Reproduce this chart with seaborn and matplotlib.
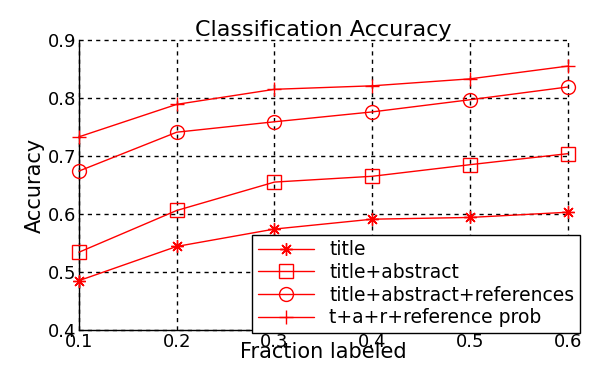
import matplotlib
matplotlib.use("Agg")
import matplotlib.pyplot as plt
import seaborn as sns

# data
fraction = [0.1, 0.2, 0.3, 0.4, 0.5, 0.6]
acc_title = [0.485, 0.544, 0.574, 0.591, 0.594, 0.603]
acc_title_abstract = [0.534, 0.606, 0.655, 0.665, 0.685, 0.704]
acc_title_abstract_refs = [0.674, 0.741, 0.759, 0.776, 0.797, 0.819]
acc_ref_prob = [0.733, 0.789, 0.815, 0.821, 0.833, 0.855]

labels = ["title", "title+abstract", "title+abstract+references", "t+a+r+reference prob"]
series = [acc_title, acc_title_abstract, acc_title_abstract_refs, acc_ref_prob]
markers = [(8, 2, 0), "s", "o", "+"]
sizes = [9, 9.5, 10, 10]

sns.set_style("white")
plt.rcParams["font.family"] = ["DejaVu Sans"]
plt.rcParams["text.color"] = "black"
plt.rcParams["axes.labelcolor"] = "black"
plt.rcParams["xtick.color"] = "black"
plt.rcParams["ytick.color"] = "black"

fig = plt.figure(figsize=(5.89, 3.81), dpi=100)
ax = fig.add_axes([0.134, 0.134, 0.830, 0.761])

for vals, lab, m, ms in zip(series, labels, markers, sizes):
    sns.lineplot(x=fraction, y=vals, ax=ax, color="red", linewidth=1,
                 marker=m, markersize=ms, markerfacecolor="none",
                 markeredgecolor="red", markeredgewidth=1, label=lab,
                 clip_on=False, zorder=3)

ax.set_xlim(0.1, 0.6)
ax.set_ylim(0.4, 0.9)
ax.set_xticks(fraction)
ax.set_yticks([0.4, 0.5, 0.6, 0.7, 0.8, 0.9])
ax.set_xticklabels(["0.1", "0.2", "0.3", "0.4", "0.5", "0.6"])
ax.set_yticklabels(["0.4", "0.5", "0.6", "0.7", "0.8", "0.9"])
ax.tick_params(labelsize=13, direction="in", length=4, color="black", pad=2)
ax.grid(True, color="black", linestyle=(0, (3, 3)), linewidth=1)
ax.set_axisbelow(True)
# keep the edge grid lines (0.6 and 0.9) fully visible
for gl in ax.get_xgridlines() + ax.get_ygridlines():
    gl.set_clip_on(False)

for side in ["top", "right"]:
    ax.spines[side].set_visible(False)
for side in ["left", "bottom"]:
    ax.spines[side].set_color("black")
    ax.spines[side].set_linewidth(1)

ax.set_title("Classification Accuracy", fontsize=16, pad=3, color="black")
ax.set_xlabel("Fraction labeled", fontsize=15, labelpad=-6)
ax.set_ylabel("Accuracy", fontsize=15, labelpad=2)

leg = ax.legend(loc="lower right", bbox_to_anchor=(580 / 589, 48 / 381),
                bbox_transform=fig.transFigure, fontsize=13.5, frameon=True,
                fancybox=False, edgecolor="black", framealpha=1,
                handlelength=3, labelspacing=0.2, borderpad=0.3,
                borderaxespad=0)
leg.get_frame().set_linewidth(1)

fig.savefig("out.png", dpi=100)
